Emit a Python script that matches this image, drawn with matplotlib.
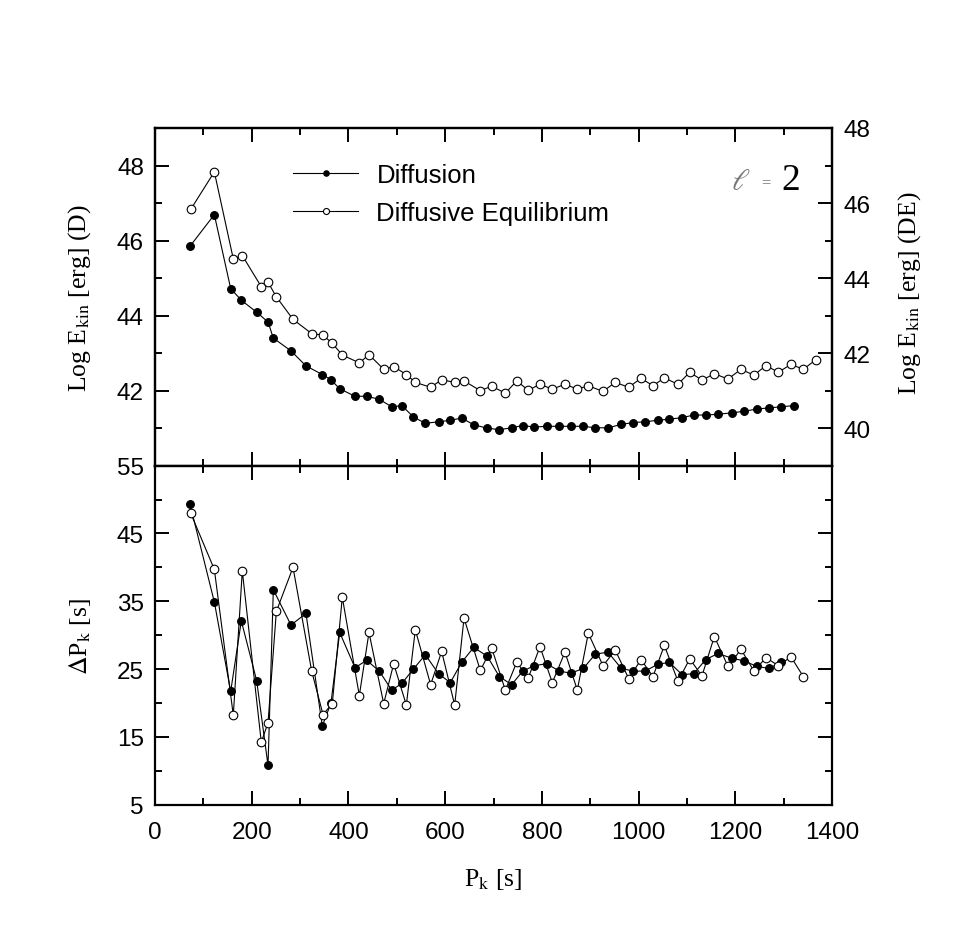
import matplotlib
matplotlib.use("Agg")
import matplotlib.pyplot as plt
from matplotlib.ticker import MultipleLocator, FixedLocator

plt.rcParams['font.family'] = ['Liberation Sans', 'DejaVu Sans']
plt.rcParams['mathtext.fontset'] = 'stix'

# periods of the modes [s]
P_D = [72.4, 122.7, 156.5, 178.5, 210.2, 233.7, 244.7, 281.2, 312.2, 346.0,
       363.9, 381.9, 413.6, 437.7, 463.8, 489.4, 510.7, 534.2, 559.0, 586.6,
       610.6, 634.2, 659.0, 687.1, 712.0, 737.6, 760.3, 784.3, 810.0, 836.0,
       860.2, 885.7, 910.5, 936.7, 964.3, 989.1, 1013.2, 1039.5, 1063.5, 1089.7,
       1113.9, 1138.7, 1164.2, 1193.1, 1218.6, 1244.2, 1269.6, 1294.5, 1321.3]
P_DE = [73.8, 122.7, 161.9, 180.5, 219.8, 233.7, 250.9, 285.4, 324.0, 347.4,
        366.6, 387.3, 422.5, 442.5, 472.9, 493.6, 519.7, 538.3, 570.0, 592.8,
        619.7, 639.0, 672.7, 696.3, 724.4, 747.9, 771.9, 796.1, 821.6, 847.8,
        873.3, 896.0, 926.4, 951.8, 979.5, 1005.0, 1029.8, 1053.2, 1081.5, 1105.7,
        1131.1, 1156.6, 1184.9, 1211.8, 1238.6, 1263.4, 1288.9, 1315.1, 1340.6, 1366.2]

# log kinetic energy
E_D = [45.85, 46.69, 44.72, 44.41, 44.09, 43.83, 43.40, 43.06, 42.66, 42.43,
       42.29, 42.05, 41.85, 41.85, 41.77, 41.57, 41.60, 41.30, 41.13, 41.17,
       41.21, 41.27, 41.09, 41.00, 40.96, 41.01, 41.07, 41.03, 41.05, 41.05,
       41.05, 41.05, 41.01, 41.01, 41.10, 41.15, 41.17, 41.21, 41.24, 41.28,
       41.35, 41.35, 41.37, 41.41, 41.45, 41.51, 41.54, 41.57, 41.60]
E_DE = [45.83, 46.83, 44.51, 44.60, 43.77, 43.89, 43.50, 42.90, 42.52, 42.48,
        42.26, 41.95, 41.74, 41.96, 41.57, 41.64, 41.43, 41.22, 41.09, 41.29,
        41.22, 41.26, 41.00, 41.12, 40.93, 41.26, 41.01, 41.17, 41.04, 41.17,
        41.04, 41.13, 40.98, 41.22, 41.09, 41.33, 41.13, 41.34, 41.17, 41.49,
        41.28, 41.45, 41.31, 41.57, 41.41, 41.67, 41.49, 41.70, 41.57, 41.82]

# period spacing
dP_D = [49.3, 34.9, 21.7, 32.1, 23.3, 10.8, 36.7, 31.5, 33.2, 16.6,
        20.0, 30.4, 25.2, 26.3, 24.7, 21.9, 22.9, 25.0, 27.1, 24.3,
        23.0, 26.0, 28.2, 26.9, 23.9, 22.7, 24.7, 25.5, 25.8, 24.7,
        24.4, 25.1, 27.2, 27.5, 25.1, 24.7, 24.7, 25.7, 26.0, 24.2,
        24.3, 26.4, 27.3, 26.6, 26.2, 25.4, 25.1, 26.0]
dP_DE = [48.0, 39.7, 18.2, 39.5, 14.2, 17.1, 33.5, 40.0, 24.7, 18.3,
         19.9, 35.6, 21.1, 30.4, 19.9, 25.8, 19.7, 30.8, 22.7, 27.6,
         19.7, 32.5, 24.8, 28.1, 21.9, 26.0, 23.7, 28.3, 23.0, 27.5,
         21.9, 30.3, 25.5, 27.8, 23.6, 26.4, 23.9, 28.5, 23.2, 26.5,
         24.0, 29.8, 25.4, 27.9, 24.7, 26.7, 25.5, 26.8, 23.9]

labels = ['Diffusion', 'Diffusive Equilibrium']

fig = plt.figure(figsize=(9.58, 9.28), dpi=100)
ax1 = fig.add_axes([0.1618, 0.4971, 0.7067, 0.3639])
ax2 = fig.add_axes([0.1618, 0.1318, 0.7067, 0.3653])
ax1r = ax1.twinx()

filled = dict(color='k', lw=0.8, marker='o', ms=5.6, mfc='k', mec='k', mew=0.8)
hollow = dict(color='k', lw=0.8, marker='o', ms=6.2, mfc='white', mec='k', mew=0.8)

l1, = ax1.plot(P_D, E_D, label=labels[0], **filled)
l2, = ax1r.plot(P_DE, E_DE, label=labels[1], **hollow)

ax2.plot(P_D[:len(dP_D)], dP_D, **filled)
ax2.plot(P_DE[:len(dP_DE)], dP_DE, **hollow)

# axis ranges
for ax in (ax1, ax2):
    ax.set_xlim(0, 1400)
    ax.xaxis.set_major_locator(MultipleLocator(200))
    ax.xaxis.set_minor_locator(MultipleLocator(100))
ax1.set_ylim(40, 49)
ax1r.set_ylim(39, 48)
ax2.set_ylim(5, 55)

ax1.yaxis.set_major_locator(FixedLocator([42, 44, 46, 48]))
ax1.yaxis.set_minor_locator(FixedLocator([40, 41, 43, 45, 47, 49]))
ax1r.yaxis.set_major_locator(MultipleLocator(2))
ax1r.yaxis.set_minor_locator(MultipleLocator(1))
ax2.yaxis.set_major_locator(FixedLocator([5, 15, 25, 35, 45, 55]))
ax2.yaxis.set_minor_locator(FixedLocator([10, 20, 30, 40, 50]))

for ax in (ax1, ax1r, ax2):
    for s in ax.spines.values():
        s.set_linewidth(1.6)
    ax.tick_params(which='both', direction='in', width=1.4, labelsize=17.5)
    ax.tick_params(which='major', length=10)
    ax.tick_params(which='minor', length=5)
    ax.tick_params(axis='x', pad=12)
    ax.tick_params(axis='y', pad=8)

ax1.tick_params(which='both', top=True, bottom=True, left=True, right=False, labelbottom=False)
ax1r.tick_params(which='both', left=False, right=True)
ax2.tick_params(which='both', top=True, bottom=True, left=True, right=True)

serif = ['Liberation Serif', 'DejaVu Serif']
ax1.set_ylabel(r'Log E$_{\rm kin}$ [erg] (D)', fontsize=18.5, family=serif)
ax1r.set_ylabel(r'Log E$_{\rm kin}$ [erg] (DE)', fontsize=18.5, family=serif)
ax2.set_ylabel(r'$\Delta$P$_{\rm k}$ [s]', fontsize=18.5, family=serif)
ax2.set_xlabel(r'P$_{\rm k}$ [s]', fontsize=18.5, family=serif)
ax1.yaxis.set_label_coords(-0.092, 0.5)
ax2.yaxis.set_label_coords(-0.092, 0.5)
ax1r.yaxis.set_label_coords(1.094, 0.515)
ax2.xaxis.set_label_coords(0.5, -0.18)

# legend
ax1r.legend([l1, l2], labels, loc='upper left', bbox_to_anchor=(0.3058, 0.8235),
            bbox_transform=fig.transFigure, frameon=False, fontsize=18.5,
            handlelength=2.55, handletextpad=0.7, labelspacing=0.56,
            borderpad=0, borderaxespad=0, markerscale=0.7)

# l = 2 label
ax1.text(0.8656, 0.844, r'$\ell$', transform=ax1.transAxes, fontsize=22,
         color='#777777', ha='center', va='center')
ax1.text(0.9025, 0.840, '=', transform=ax1.transAxes, fontsize=12,
         color='#777777', ha='center', va='center', family=serif)
ax1.text(0.939, 0.846, '2', transform=ax1.transAxes, fontsize=27,
         color='k', ha='center', va='center', family=serif)

fig.savefig('out.png', dpi=100)
